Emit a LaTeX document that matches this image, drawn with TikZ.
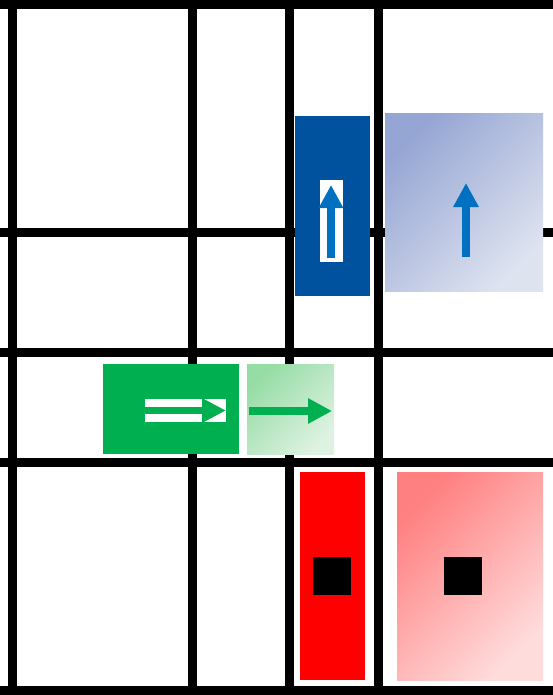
\documentclass[tikz,border=0pt]{standalone}
\usetikzlibrary{arrows.meta}

\definecolor{darkblue}{RGB}{0,81,158}
\definecolor{arrowblue}{RGB}{0,112,192}
\definecolor{paleblueA}{RGB}{150,166,212}
\definecolor{paleblueB}{RGB}{222,227,240}
\definecolor{boldgreen}{RGB}{0,176,80}
\definecolor{palegreenA}{RGB}{150,220,165}
\definecolor{palegreenB}{RGB}{222,242,226}
\definecolor{paleredA}{RGB}{255,128,128}
\definecolor{paleredB}{RGB}{255,220,220}

\begin{document}
\begin{tikzpicture}[
    x=1pt, y=-1pt,
    gridline/.style={line width=9pt, black},
    tile/.style={draw=none, inner sep=0pt, outer sep=0pt, anchor=north west},
    fadetile/.style 2 args={tile, top color=#1, bottom color=#2, shading angle=45},
    blackbox/.style={draw=none, fill=black, inner sep=0pt, minimum size=38pt},
    slot/.style={draw=none, fill=white, inner sep=0pt},
    fatarrow/.style={line width=8pt, -{Triangle[length=24pt, width=24pt]}}
]
\useasboundingbox (0,0) rectangle (553,695);
\clip (0,0) rectangle (553,695);
\fill[white] (0,0) rectangle (553,695);

% grid
\foreach \gx in {12.5, 192.5, 289, 378, 557}
    \draw[gridline] (\gx,-10) -- (\gx,705);
\foreach \gy in {5, 232, 352.5, 462.5, 690}
    \draw[gridline] (-10,\gy) -- (565,\gy);

% blue pair
\node (bluebar) [tile, fill=darkblue, minimum width=75pt, minimum height=180pt] at (295,116) {};
\node (blueslot) [slot, minimum width=23pt, minimum height=82pt] at (331.5,221) {};
\draw[fatarrow, arrowblue, -{Triangle[length=23pt, width=23pt]}] (331,258) -- (331,185);
\node (bluebox) [fadetile={paleblueA}{paleblueB}, minimum width=158pt, minimum height=177pt] at (385,114) {};
\draw[fatarrow, arrowblue] (466,257) -- (466,183);

% green pair
\node (greenbar) [tile, fill=boldgreen, minimum width=136pt, minimum height=90pt] at (103,364) {};
\node (greenslot) [slot, minimum width=81pt, minimum height=23pt] at (185.5,410.5) {};
\draw[boldgreen, line width=7pt, -{Triangle[length=24pt, width=23pt]}] (145,410.5) -- (226,410.5);
\node (greenbox) [fadetile={palegreenA}{palegreenB}, minimum width=87pt, minimum height=90pt] at (247,364) {};
\draw[fatarrow, boldgreen] (249,411) -- (332,411);

% red pair
\node (redbar) [tile, fill=red, minimum width=65pt, minimum height=208pt] at (300,472) {};
\node (redmark) [blackbox] at (332,576) {};
\node (redbox) [fadetile={paleredA}{paleredB}, minimum width=146pt, minimum height=208pt] at (397,472) {};
\node (redboxmark) [blackbox] at (463,576) {};
\end{tikzpicture}
\end{document}
